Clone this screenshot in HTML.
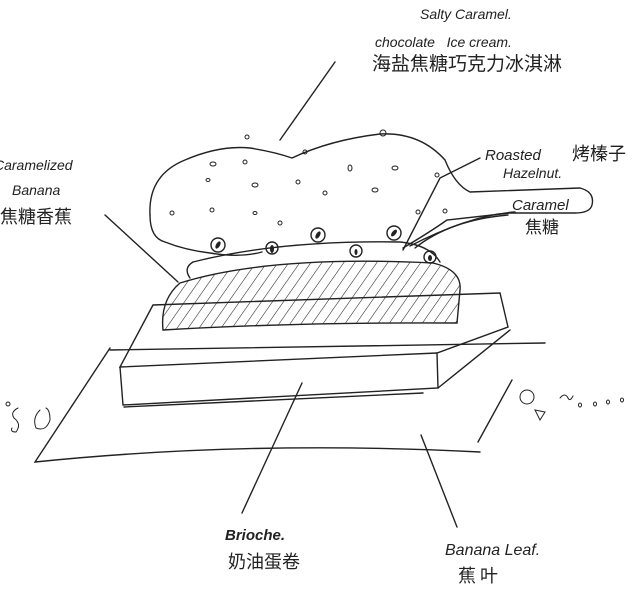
<!DOCTYPE html>
<html><head><meta charset="utf-8"><style>
html,body{margin:0;padding:0;background:#fff;width:640px;height:590px;overflow:hidden}
svg{display:block}
text{font-family:"Liberation Sans","Noto Sans CJK SC",sans-serif;fill:#222;font-style:italic}
.c{font-style:normal;font-family:"Noto Sans CJK SC",sans-serif}
</style></head><body>
<svg width="640" height="590" viewBox="0 0 640 590" fill="none" stroke="#222" stroke-width="1.4" stroke-linecap="round">
<defs>
<pattern id="h" patternUnits="userSpaceOnUse" width="9" height="9" patternTransform="rotate(35)">
<line x1="0" y1="0" x2="0" y2="9" stroke="#222" stroke-width="1.1"/>
</pattern>
</defs>
<path d="M110 348 L35 462 Q250 440 480 452"/>
<path d="M478 442 L512 380"/>
<path d="M110 350 L545 343"/>
<path d="M280 140 L335 62"/>
<path d="M403 250 L440 178 L480 158"/>
<path d="M410 246 Q470 215 515 212"/>
<path d="M105 215 L178 282"/>
<path d="M302 383 L242 513"/>
<path d="M421 435 L457 527"/>
<path d="M150 215 Q148 175 185 160 Q220 145 250 148 Q275 152 292 158 Q330 140 380 134 Q420 132 445 160 Q455 185 470 192 L580 188 Q595 192 592 205 Q590 213 575 213 L510 213 L447 220 Q430 232 403 248"/>
<path d="M150 215 Q150 238 165 242 Q185 250 210 253 Q240 258 262 252"/>
<path d="M415 248 Q450 220 508 215"/>
<g stroke-width="1">
<ellipse cx="213" cy="164" rx="3" ry="2"/><ellipse cx="208" cy="180" rx="2" ry="1.5"/><ellipse cx="255" cy="185" rx="3" ry="2"/><ellipse cx="298" cy="182" rx="2" ry="2"/><ellipse cx="350" cy="168" rx="2" ry="3"/><ellipse cx="395" cy="168" rx="3" ry="2"/><ellipse cx="255" cy="213" rx="2" ry="1.5"/><ellipse cx="325" cy="193" rx="2" ry="2"/><ellipse cx="375" cy="190" rx="3" ry="2"/><ellipse cx="212" cy="210" rx="2" ry="2"/><ellipse cx="280" cy="223" rx="2" ry="2"/><ellipse cx="245" cy="162" rx="2" ry="2"/><ellipse cx="305" cy="152" rx="2" ry="2"/><ellipse cx="437" cy="175" rx="2" ry="2"/><ellipse cx="445" cy="211" rx="2" ry="2"/><ellipse cx="418" cy="212" rx="2" ry="2"/><ellipse cx="383" cy="133" rx="3" ry="3"/><ellipse cx="247" cy="137" rx="2" ry="2"/><ellipse cx="172" cy="213" rx="2" ry="2"/>
</g>
<g>
<circle cx="218" cy="245" r="7"/><circle cx="272" cy="248" r="6"/><circle cx="318" cy="235" r="7"/><circle cx="356" cy="251" r="6"/><circle cx="394" cy="233" r="7"/><circle cx="430" cy="257" r="6"/>
<g fill="#222" stroke="none">
<ellipse cx="218" cy="245" rx="2" ry="4" transform="rotate(30 218 245)"/><ellipse cx="272" cy="249" rx="2" ry="4"/><ellipse cx="318" cy="235" rx="2" ry="4" transform="rotate(30 318 235)"/><ellipse cx="356" cy="252" rx="1.5" ry="3"/><ellipse cx="394" cy="233" rx="2" ry="4" transform="rotate(40 394 233)"/><ellipse cx="430" cy="258" rx="2" ry="3"/>
</g></g>
<path d="M193 262 Q280 240 400 242 Q430 245 440 262"/>
<path d="M193 262 Q183 268 190 278"/>
<path d="M180 283 Q270 255 433 263 Q462 270 460 290 L457 323 Q300 322 163 330 Q160 300 180 283 Z" fill="url(#h)"/>
<path d="M153 305 L500 293 L508 327 L437 353 L120 367 L153 305"/>
<path d="M120 367 L123 405 L438 388 L437 353"/>
<path d="M438 388 L510 330"/>
<path d="M124 407 L423 393"/>
<circle cx="8" cy="404" r="2" stroke-width="1"/>
<path d="M18 408 Q10 412 14 418 Q22 424 16 432 Q10 432 12 428" stroke-width="1"/>
<path d="M40 410 Q32 418 36 428 Q46 432 50 420 Q50 410 46 408" stroke-width="1"/>
<circle cx="527" cy="397" r="7" stroke-width="1"/>
<path d="M535 410 L545 412 L540 420 Z" stroke-width="1"/>
<path d="M560 398 Q565 392 568 398 Q570 402 573 396" stroke-width="1"/>
<ellipse cx="580" cy="405" rx="1.5" ry="2" stroke-width="1"/><ellipse cx="595" cy="404" rx="1.5" ry="2" stroke-width="1"/><ellipse cx="608" cy="402" rx="1.5" ry="2" stroke-width="1"/><ellipse cx="622" cy="400" rx="1.5" ry="2" stroke-width="1"/>
<g stroke="none">
<text x="420" y="19" font-size="14">Salty Caramel.</text>
<text x="375" y="47" font-size="14">chocolate&#160;&#160;&#160;Ice cream.</text>
<text x="372" y="70" font-size="19" class="c">海盐焦糖巧克力冰淇淋</text>
<text x="485" y="160" font-size="15">Roasted</text>
<text x="572" y="160" font-size="18" class="c">烤榛子</text>
<text x="503" y="178" font-size="14">Hazelnut.</text>
<text x="512" y="210" font-size="15">Caramel</text>
<text x="525" y="233" font-size="17" class="c">焦糖</text>
<text x="-6" y="170" font-size="14">Caramelized</text>
<text x="12" y="195" font-size="14">Banana</text>
<text x="0" y="223" font-size="18" class="c">焦糖香蕉</text>
<text x="225" y="540" font-size="15" font-weight="bold">Brioche.</text>
<text x="228" y="568" font-size="18" class="c">奶油蛋卷</text>
<text x="445" y="555" font-size="16">Banana Leaf.</text>
<text x="458" y="582" font-size="18" class="c">蕉 叶</text>
</g>
</svg>
</body></html>
